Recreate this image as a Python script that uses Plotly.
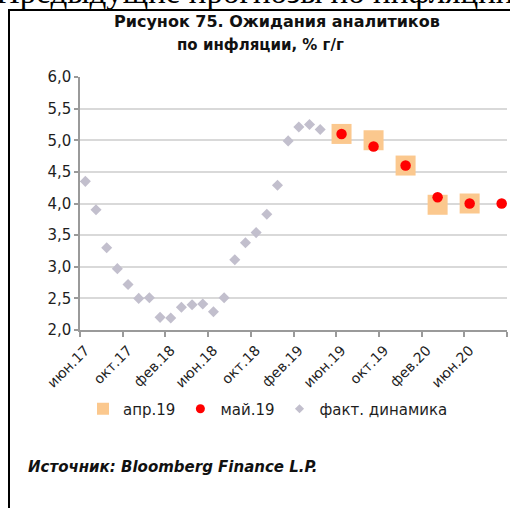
import plotly.graph_objects as go

months = ["июн.17","июл.17","авг.17","сен.17","окт.17","ноя.17","дек.17","янв.18",
          "фев.18","мар.18","апр.18","май.18","июн.18","июл.18","авг.18","сен.18",
          "окт.18","ноя.18","дек.18","янв.19","фев.19","мар.19","апр.19","май.19",
          "июн.19","июл.19","авг.19","сен.19","окт.19","ноя.19","дек.19","янв.20",
          "фев.20","мар.20","апр.20","май.20","июн.20","июл.20","авг.20","сен.20"]

fact_values = [4.35, 3.9, 3.3, 2.97, 2.72, 2.5, 2.51, 2.2, 2.19, 2.36, 2.4, 2.41,
               2.29, 2.51, 3.11, 3.38, 3.54, 3.83, 4.29, 4.99, 5.21, 5.25, 5.17]

apr19_dates = ["июн.19", "сен.19", "дек.19", "мар.20", "июн.20"]
apr19_values = [5.1, 5.0, 4.6, 3.98, 4.0]

may19_dates = ["июн.19", "сен.19", "дек.19", "мар.20", "июн.20", "сен.20"]
may19_values = [5.1, 4.9, 4.6, 4.1, 4.0, 4.0]

tick_labels = months[::4]

idx = {m: i for i, m in enumerate(months)}

FONT = "DejaVu Sans"
C_APR = "#FBC88E"
C_MAY = "#FF0000"
C_FACT = "#C2BFCD"

fig = go.Figure()
fig.add_trace(go.Scatter(x=[idx[m] for m in apr19_dates], y=apr19_values, mode="markers",
                         marker=dict(symbol="square", size=20, color=C_APR),
                         name="апр.19", showlegend=False))
fig.add_trace(go.Scatter(x=[idx[m] for m in may19_dates], y=may19_values, mode="markers",
                         marker=dict(symbol="circle", size=10.5, color=C_MAY),
                         name="май.19", showlegend=False))
fig.add_trace(go.Scatter(x=list(range(len(fact_values))), y=fact_values, mode="markers",
                         marker=dict(symbol="diamond", size=8.5, color=C_FACT),
                         name="факт. динамика", showlegend=False))
# legend entries
fig.add_trace(go.Scatter(x=[None], y=[None], mode="markers",
                         marker=dict(symbol="square", size=12, color=C_APR), name="апр.19"))
fig.add_trace(go.Scatter(x=[None], y=[None], mode="markers",
                         marker=dict(symbol="circle", size=9, color=C_MAY), name="май.19"))
fig.add_trace(go.Scatter(x=[None], y=[None], mode="markers",
                         marker=dict(symbol="diamond", size=7, color=C_FACT), name="факт. динамика"))

L, R, T, B = 80, 3, 77, 178
W, H = 510, 508
pw, ph = W - L - R, H - T - B


def px(x):
    return (x - L) / pw


def py(y):
    return (H - B - y) / ph


fig.update_layout(
    width=W, height=H,
    margin=dict(l=L, r=R, t=T, b=B, autoexpand=False),
    paper_bgcolor="white", plot_bgcolor="white",
    separators=", ",
    font=dict(family=FONT, size=14, color="#1e1e1e"),
    showlegend=True,
    legend=dict(orientation="h", x=px(83), xanchor="left", y=py(409), yanchor="middle",
                font=dict(family=FONT, size=15, color="#1e1e1e"),
                itemwidth=30, tracegroupgap=0, bgcolor="rgba(0,0,0,0)"),
    xaxis=dict(range=[-0.5, len(months) - 0.5], showgrid=False, zeroline=False,
               automargin=False,
               tickmode="array", tickvals=list(range(0, len(months), 4)), ticktext=tick_labels,
               tickangle=-45, ticks="outside", ticklen=5, tickcolor="rgba(0,0,0,0)",
               showline=True, linecolor="#9a9a9a", linewidth=1.5,
               tickfont=dict(family=FONT, size=14, color="#1e1e1e"),
               minor=dict(tickmode="array", tickvals=[i - 0.5 for i in range(0, len(months) + 1, 4)],
                          ticks="outside", ticklen=5, tickcolor="#9a9a9a", tickwidth=1.5,
                          showgrid=False)),
    yaxis=dict(range=[2, 6], tickmode="array", tickvals=[2, 2.5, 3, 3.5, 4, 4.5, 5, 5.5, 6],
               automargin=False,
               tickformat=".1f", showgrid=True, gridcolor="#d9d9d9", gridwidth=1.5,
               zeroline=False, showline=True, linecolor="#9a9a9a", linewidth=1.5,
               ticks="outside", ticklen=4, tickcolor="#9a9a9a", tickwidth=1.5,
               tickfont=dict(family=FONT, size=15, color="#1e1e1e")),
    shapes=[
        dict(type="line", xref="paper", yref="paper", x0=px(9), x1=px(W + 5), y0=py(10), y1=py(10),
             line=dict(color="black", width=2)),
        dict(type="line", xref="paper", yref="paper", x0=px(9), x1=px(9), y0=py(9), y1=py(H + 5),
             line=dict(color="black", width=2)),
    ],
    annotations=[
        dict(text="Предыдущие прогнозы по инфляции", xref="paper", yref="paper",
             x=px(255), y=py(12), xanchor="center", yanchor="bottom", showarrow=False,
             font=dict(family="Liberation Serif", size=33, color="black")),
        dict(text="<b>Рисунок 75. Ожидания аналитиков</b>", xref="paper", yref="paper",
             x=px(277), y=py(22), xanchor="center", yanchor="middle", showarrow=False,
             font=dict(family=FONT, size=16, color="#111111")),
        dict(text="<b>по инфляции, % г/г</b>", xref="paper", yref="paper",
             x=px(260), y=py(45), xanchor="center", yanchor="middle", showarrow=False,
             font=dict(family=FONT, size=15, color="#111111")),
        dict(text="<b><i>Источник: Bloomberg Finance L.P.</i></b>", xref="paper", yref="paper",
             x=px(26), y=py(467), xanchor="left", yanchor="middle", showarrow=False,
             font=dict(family=FONT, size=15, color="#111111")),
    ],
)

fig.write_html("out.html", config={"displayModeBar": False},
               post_script="document.body.style.margin='0';document.body.style.overflow='hidden';")
